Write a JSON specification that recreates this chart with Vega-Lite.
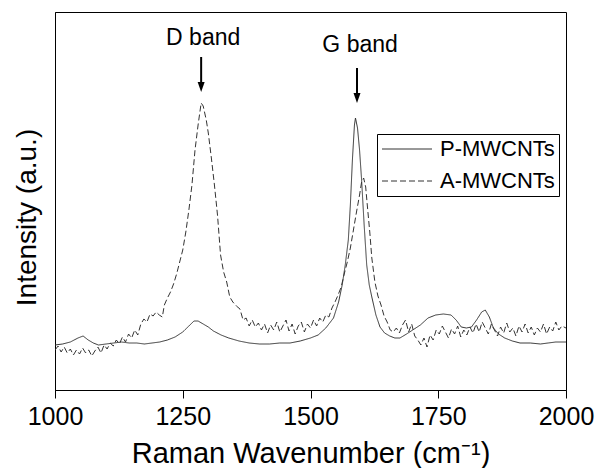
{
  "$schema": "https://vega.github.io/schema/vega-lite/v6.json",
  "width": 511,
  "height": 378,
  "autosize": {"type": "none"},
  "padding": {"left": 55, "top": 12, "right": 31, "bottom": 78},
  "config": {
    "font": "Liberation Sans",
    "view": {"stroke": "black", "strokeWidth": 1},
    "axis": {"labelColor": "black", "titleColor": "black", "domainColor": "black", "tickColor": "black", "grid": false, "titleFontWeight": "normal"}
  },
  "datasets": {
    "spec": [
      {"wn":1000,"v":45,"s":"P-MWCNTs"},{"wn":1015,"v":46,"s":"P-MWCNTs"},{"wn":1030,"v":48,"s":"P-MWCNTs"},{"wn":1045,"v":52,"s":"P-MWCNTs"},{"wn":1055,"v":54,"s":"P-MWCNTs"},{"wn":1065,"v":50,"s":"P-MWCNTs"},{"wn":1075,"v":47,"s":"P-MWCNTs"},{"wn":1085,"v":45,"s":"P-MWCNTs"},{"wn":1100,"v":46,"s":"P-MWCNTs"},{"wn":1115,"v":47,"s":"P-MWCNTs"},{"wn":1130,"v":48,"s":"P-MWCNTs"},{"wn":1145,"v":47,"s":"P-MWCNTs"},{"wn":1160,"v":47,"s":"P-MWCNTs"},{"wn":1175,"v":46,"s":"P-MWCNTs"},{"wn":1190,"v":47,"s":"P-MWCNTs"},{"wn":1205,"v":48,"s":"P-MWCNTs"},{"wn":1220,"v":50,"s":"P-MWCNTs"},{"wn":1235,"v":53,"s":"P-MWCNTs"},{"wn":1250,"v":58,"s":"P-MWCNTs"},{"wn":1262,"v":64,"s":"P-MWCNTs"},{"wn":1272,"v":69,"s":"P-MWCNTs"},{"wn":1280,"v":69,"s":"P-MWCNTs"},{"wn":1290,"v":66,"s":"P-MWCNTs"},{"wn":1300,"v":63,"s":"P-MWCNTs"},{"wn":1310,"v":59,"s":"P-MWCNTs"},{"wn":1325,"v":55,"s":"P-MWCNTs"},{"wn":1340,"v":52,"s":"P-MWCNTs"},{"wn":1360,"v":49,"s":"P-MWCNTs"},{"wn":1380,"v":47,"s":"P-MWCNTs"},{"wn":1400,"v":46,"s":"P-MWCNTs"},{"wn":1420,"v":46,"s":"P-MWCNTs"},{"wn":1440,"v":47,"s":"P-MWCNTs"},{"wn":1460,"v":47,"s":"P-MWCNTs"},{"wn":1480,"v":49,"s":"P-MWCNTs"},{"wn":1500,"v":52,"s":"P-MWCNTs"},{"wn":1515,"v":55,"s":"P-MWCNTs"},{"wn":1530,"v":62,"s":"P-MWCNTs"},{"wn":1545,"v":72,"s":"P-MWCNTs"},{"wn":1555,"v":88,"s":"P-MWCNTs"},{"wn":1562,"v":105,"s":"P-MWCNTs"},{"wn":1568,"v":125,"s":"P-MWCNTs"},{"wn":1574,"v":150,"s":"P-MWCNTs"},{"wn":1578,"v":185,"s":"P-MWCNTs"},{"wn":1582,"v":230,"s":"P-MWCNTs"},{"wn":1586,"v":265,"s":"P-MWCNTs"},{"wn":1588,"v":272,"s":"P-MWCNTs"},{"wn":1592,"v":262,"s":"P-MWCNTs"},{"wn":1596,"v":240,"s":"P-MWCNTs"},{"wn":1600,"v":210,"s":"P-MWCNTs"},{"wn":1605,"v":165,"s":"P-MWCNTs"},{"wn":1610,"v":125,"s":"P-MWCNTs"},{"wn":1615,"v":105,"s":"P-MWCNTs"},{"wn":1620,"v":93,"s":"P-MWCNTs"},{"wn":1628,"v":75,"s":"P-MWCNTs"},{"wn":1636,"v":63,"s":"P-MWCNTs"},{"wn":1645,"v":57,"s":"P-MWCNTs"},{"wn":1655,"v":54,"s":"P-MWCNTs"},{"wn":1665,"v":52,"s":"P-MWCNTs"},{"wn":1675,"v":52,"s":"P-MWCNTs"},{"wn":1688,"v":56,"s":"P-MWCNTs"},{"wn":1700,"v":60,"s":"P-MWCNTs"},{"wn":1715,"v":65,"s":"P-MWCNTs"},{"wn":1730,"v":72,"s":"P-MWCNTs"},{"wn":1745,"v":75,"s":"P-MWCNTs"},{"wn":1760,"v":76,"s":"P-MWCNTs"},{"wn":1775,"v":75,"s":"P-MWCNTs"},{"wn":1785,"v":70,"s":"P-MWCNTs"},{"wn":1795,"v":63,"s":"P-MWCNTs"},{"wn":1805,"v":62,"s":"P-MWCNTs"},{"wn":1815,"v":63,"s":"P-MWCNTs"},{"wn":1825,"v":70,"s":"P-MWCNTs"},{"wn":1835,"v":78,"s":"P-MWCNTs"},{"wn":1842,"v":80,"s":"P-MWCNTs"},{"wn":1850,"v":73,"s":"P-MWCNTs"},{"wn":1858,"v":62,"s":"P-MWCNTs"},{"wn":1868,"v":56,"s":"P-MWCNTs"},{"wn":1880,"v":52,"s":"P-MWCNTs"},{"wn":1895,"v":49,"s":"P-MWCNTs"},{"wn":1910,"v":47,"s":"P-MWCNTs"},{"wn":1930,"v":47,"s":"P-MWCNTs"},{"wn":1950,"v":46,"s":"P-MWCNTs"},{"wn":1965,"v":47,"s":"P-MWCNTs"},{"wn":1980,"v":48,"s":"P-MWCNTs"},{"wn":2000,"v":48,"s":"P-MWCNTs"},
      {"wn":1000,"v":40,"s":"A-MWCNTs"},{"wn":1006,"v":44,"s":"A-MWCNTs"},{"wn":1012,"v":38,"s":"A-MWCNTs"},{"wn":1018,"v":43,"s":"A-MWCNTs"},{"wn":1024,"v":37,"s":"A-MWCNTs"},{"wn":1030,"v":41,"s":"A-MWCNTs"},{"wn":1036,"v":35,"s":"A-MWCNTs"},{"wn":1042,"v":40,"s":"A-MWCNTs"},{"wn":1048,"v":36,"s":"A-MWCNTs"},{"wn":1054,"v":42,"s":"A-MWCNTs"},{"wn":1060,"v":37,"s":"A-MWCNTs"},{"wn":1066,"v":40,"s":"A-MWCNTs"},{"wn":1072,"v":34,"s":"A-MWCNTs"},{"wn":1078,"v":39,"s":"A-MWCNTs"},{"wn":1084,"v":43,"s":"A-MWCNTs"},{"wn":1090,"v":37,"s":"A-MWCNTs"},{"wn":1096,"v":45,"s":"A-MWCNTs"},{"wn":1102,"v":41,"s":"A-MWCNTs"},{"wn":1108,"v":47,"s":"A-MWCNTs"},{"wn":1114,"v":44,"s":"A-MWCNTs"},{"wn":1120,"v":50,"s":"A-MWCNTs"},{"wn":1126,"v":46,"s":"A-MWCNTs"},{"wn":1132,"v":53,"s":"A-MWCNTs"},{"wn":1138,"v":48,"s":"A-MWCNTs"},{"wn":1144,"v":56,"s":"A-MWCNTs"},{"wn":1150,"v":52,"s":"A-MWCNTs"},{"wn":1156,"v":60,"s":"A-MWCNTs"},{"wn":1162,"v":55,"s":"A-MWCNTs"},{"wn":1168,"v":66,"s":"A-MWCNTs"},{"wn":1174,"v":71,"s":"A-MWCNTs"},{"wn":1180,"v":68,"s":"A-MWCNTs"},{"wn":1186,"v":76,"s":"A-MWCNTs"},{"wn":1192,"v":74,"s":"A-MWCNTs"},{"wn":1198,"v":78,"s":"A-MWCNTs"},{"wn":1204,"v":75,"s":"A-MWCNTs"},{"wn":1210,"v":73,"s":"A-MWCNTs"},{"wn":1214,"v":85,"s":"A-MWCNTs"},{"wn":1220,"v":92,"s":"A-MWCNTs"},{"wn":1226,"v":98,"s":"A-MWCNTs"},{"wn":1232,"v":106,"s":"A-MWCNTs"},{"wn":1238,"v":116,"s":"A-MWCNTs"},{"wn":1244,"v":128,"s":"A-MWCNTs"},{"wn":1250,"v":140,"s":"A-MWCNTs"},{"wn":1256,"v":158,"s":"A-MWCNTs"},{"wn":1262,"v":180,"s":"A-MWCNTs"},{"wn":1268,"v":205,"s":"A-MWCNTs"},{"wn":1274,"v":240,"s":"A-MWCNTs"},{"wn":1280,"v":265,"s":"A-MWCNTs"},{"wn":1286,"v":287,"s":"A-MWCNTs"},{"wn":1290,"v":284,"s":"A-MWCNTs"},{"wn":1296,"v":270,"s":"A-MWCNTs"},{"wn":1300,"v":257,"s":"A-MWCNTs"},{"wn":1306,"v":232,"s":"A-MWCNTs"},{"wn":1312,"v":205,"s":"A-MWCNTs"},{"wn":1318,"v":175,"s":"A-MWCNTs"},{"wn":1324,"v":135,"s":"A-MWCNTs"},{"wn":1330,"v":118,"s":"A-MWCNTs"},{"wn":1336,"v":108,"s":"A-MWCNTs"},{"wn":1342,"v":93,"s":"A-MWCNTs"},{"wn":1348,"v":88,"s":"A-MWCNTs"},{"wn":1355,"v":84,"s":"A-MWCNTs"},{"wn":1362,"v":81,"s":"A-MWCNTs"},{"wn":1368,"v":70,"s":"A-MWCNTs"},{"wn":1374,"v":72,"s":"A-MWCNTs"},{"wn":1380,"v":64,"s":"A-MWCNTs"},{"wn":1386,"v":70,"s":"A-MWCNTs"},{"wn":1392,"v":63,"s":"A-MWCNTs"},{"wn":1398,"v":67,"s":"A-MWCNTs"},{"wn":1404,"v":60,"s":"A-MWCNTs"},{"wn":1410,"v":66,"s":"A-MWCNTs"},{"wn":1416,"v":57,"s":"A-MWCNTs"},{"wn":1422,"v":65,"s":"A-MWCNTs"},{"wn":1428,"v":60,"s":"A-MWCNTs"},{"wn":1434,"v":68,"s":"A-MWCNTs"},{"wn":1440,"v":58,"s":"A-MWCNTs"},{"wn":1446,"v":64,"s":"A-MWCNTs"},{"wn":1452,"v":70,"s":"A-MWCNTs"},{"wn":1458,"v":59,"s":"A-MWCNTs"},{"wn":1464,"v":66,"s":"A-MWCNTs"},{"wn":1470,"v":56,"s":"A-MWCNTs"},{"wn":1476,"v":64,"s":"A-MWCNTs"},{"wn":1482,"v":68,"s":"A-MWCNTs"},{"wn":1488,"v":58,"s":"A-MWCNTs"},{"wn":1494,"v":66,"s":"A-MWCNTs"},{"wn":1500,"v":62,"s":"A-MWCNTs"},{"wn":1506,"v":70,"s":"A-MWCNTs"},{"wn":1512,"v":64,"s":"A-MWCNTs"},{"wn":1518,"v":72,"s":"A-MWCNTs"},{"wn":1524,"v":68,"s":"A-MWCNTs"},{"wn":1530,"v":75,"s":"A-MWCNTs"},{"wn":1536,"v":73,"s":"A-MWCNTs"},{"wn":1542,"v":82,"s":"A-MWCNTs"},{"wn":1548,"v":88,"s":"A-MWCNTs"},{"wn":1554,"v":95,"s":"A-MWCNTs"},{"wn":1560,"v":103,"s":"A-MWCNTs"},{"wn":1566,"v":116,"s":"A-MWCNTs"},{"wn":1572,"v":128,"s":"A-MWCNTs"},{"wn":1578,"v":142,"s":"A-MWCNTs"},{"wn":1584,"v":160,"s":"A-MWCNTs"},{"wn":1590,"v":178,"s":"A-MWCNTs"},{"wn":1596,"v":195,"s":"A-MWCNTs"},{"wn":1600,"v":208,"s":"A-MWCNTs"},{"wn":1604,"v":212,"s":"A-MWCNTs"},{"wn":1608,"v":203,"s":"A-MWCNTs"},{"wn":1612,"v":180,"s":"A-MWCNTs"},{"wn":1616,"v":158,"s":"A-MWCNTs"},{"wn":1620,"v":132,"s":"A-MWCNTs"},{"wn":1626,"v":108,"s":"A-MWCNTs"},{"wn":1632,"v":94,"s":"A-MWCNTs"},{"wn":1638,"v":85,"s":"A-MWCNTs"},{"wn":1644,"v":74,"s":"A-MWCNTs"},{"wn":1650,"v":68,"s":"A-MWCNTs"},{"wn":1656,"v":60,"s":"A-MWCNTs"},{"wn":1662,"v":58,"s":"A-MWCNTs"},{"wn":1668,"v":62,"s":"A-MWCNTs"},{"wn":1674,"v":57,"s":"A-MWCNTs"},{"wn":1680,"v":65,"s":"A-MWCNTs"},{"wn":1686,"v":70,"s":"A-MWCNTs"},{"wn":1692,"v":58,"s":"A-MWCNTs"},{"wn":1698,"v":66,"s":"A-MWCNTs"},{"wn":1704,"v":54,"s":"A-MWCNTs"},{"wn":1710,"v":50,"s":"A-MWCNTs"},{"wn":1716,"v":45,"s":"A-MWCNTs"},{"wn":1722,"v":52,"s":"A-MWCNTs"},{"wn":1728,"v":43,"s":"A-MWCNTs"},{"wn":1734,"v":55,"s":"A-MWCNTs"},{"wn":1740,"v":50,"s":"A-MWCNTs"},{"wn":1746,"v":60,"s":"A-MWCNTs"},{"wn":1752,"v":56,"s":"A-MWCNTs"},{"wn":1758,"v":64,"s":"A-MWCNTs"},{"wn":1764,"v":58,"s":"A-MWCNTs"},{"wn":1770,"v":52,"s":"A-MWCNTs"},{"wn":1776,"v":61,"s":"A-MWCNTs"},{"wn":1782,"v":56,"s":"A-MWCNTs"},{"wn":1788,"v":64,"s":"A-MWCNTs"},{"wn":1794,"v":53,"s":"A-MWCNTs"},{"wn":1800,"v":60,"s":"A-MWCNTs"},{"wn":1806,"v":55,"s":"A-MWCNTs"},{"wn":1812,"v":63,"s":"A-MWCNTs"},{"wn":1818,"v":57,"s":"A-MWCNTs"},{"wn":1824,"v":66,"s":"A-MWCNTs"},{"wn":1830,"v":58,"s":"A-MWCNTs"},{"wn":1836,"v":68,"s":"A-MWCNTs"},{"wn":1842,"v":62,"s":"A-MWCNTs"},{"wn":1848,"v":56,"s":"A-MWCNTs"},{"wn":1854,"v":66,"s":"A-MWCNTs"},{"wn":1860,"v":60,"s":"A-MWCNTs"},{"wn":1866,"v":54,"s":"A-MWCNTs"},{"wn":1872,"v":63,"s":"A-MWCNTs"},{"wn":1878,"v":57,"s":"A-MWCNTs"},{"wn":1884,"v":67,"s":"A-MWCNTs"},{"wn":1890,"v":58,"s":"A-MWCNTs"},{"wn":1896,"v":62,"s":"A-MWCNTs"},{"wn":1902,"v":54,"s":"A-MWCNTs"},{"wn":1908,"v":64,"s":"A-MWCNTs"},{"wn":1914,"v":58,"s":"A-MWCNTs"},{"wn":1920,"v":66,"s":"A-MWCNTs"},{"wn":1926,"v":57,"s":"A-MWCNTs"},{"wn":1932,"v":63,"s":"A-MWCNTs"},{"wn":1938,"v":55,"s":"A-MWCNTs"},{"wn":1944,"v":62,"s":"A-MWCNTs"},{"wn":1950,"v":58,"s":"A-MWCNTs"},{"wn":1956,"v":66,"s":"A-MWCNTs"},{"wn":1962,"v":56,"s":"A-MWCNTs"},{"wn":1968,"v":63,"s":"A-MWCNTs"},{"wn":1974,"v":59,"s":"A-MWCNTs"},{"wn":1980,"v":68,"s":"A-MWCNTs"},{"wn":1986,"v":60,"s":"A-MWCNTs"},{"wn":1992,"v":64,"s":"A-MWCNTs"},{"wn":2000,"v":62,"s":"A-MWCNTs"}
    ],
    "labels": [
      {"wn": 1290, "v": 352, "label": "D band"},
      {"wn": 1597, "v": 345, "label": "G band"}
    ],
    "arrows": [
      {"wn": 1286, "top": 333, "bot": 304, "head": 303},
      {"wn": 1591, "top": 322, "bot": 293, "head": 292}
    ]
  },
  "layer": [
    {
      "data": {"name": "spec"},
      "mark": {"type": "line", "stroke": "#333333", "strokeWidth": 1, "clip": true},
      "encoding": {
        "x": {"field": "wn", "type": "quantitative", "scale": {"domain": [1000, 2000], "nice": false},
          "axis": {"values": [1000, 1250, 1500, 1750, 2000], "format": "d", "title": "Raman Wavenumber (cm⁻¹)", "labelFontSize": 25, "titleFontSize": 29, "tickSize": 8, "labelPadding": 6, "titlePadding": 10, "labelFlush": false}},
        "y": {"field": "v", "type": "quantitative", "scale": {"domain": [0, 378], "nice": false},
          "axis": {"title": "Intensity (a.u.)", "labels": false, "ticks": false, "titleFontSize": 28, "titlePadding": 14, "titleY": 205}},
        "strokeDash": {"field": "s", "type": "nominal",
          "scale": {"domain": ["P-MWCNTs", "A-MWCNTs"], "range": [[1, 0], [6, 3]]},
          "legend": {"title": null, "orient": "none", "legendX": 322, "legendY": 122, "strokeColor": "black", "fillColor": "white", "padding": 4,
            "symbolType": "M-1,0L4,0", "symbolSize": 400, "symbolStrokeWidth": 1, "symbolStrokeColor": "#333333",
            "labelFontSize": 22, "labelColor": "black", "labelOffset": 37, "rowPadding": 10}},
        "detail": {"field": "s"},
        "order": {"field": "wn", "type": "quantitative"}
      }
    },
    {
      "data": {"name": "labels"},
      "mark": {"type": "text", "fontSize": 23, "color": "black", "align": "center", "baseline": "middle"},
      "encoding": {
        "x": {"field": "wn", "type": "quantitative"},
        "y": {"field": "v", "type": "quantitative"},
        "text": {"field": "label"}
      }
    },
    {
      "data": {"name": "arrows"},
      "mark": {"type": "rule", "color": "black", "strokeWidth": 2},
      "encoding": {
        "x": {"field": "wn", "type": "quantitative"},
        "y": {"field": "top", "type": "quantitative"},
        "y2": {"field": "bot"}
      }
    },
    {
      "data": {"name": "arrows"},
      "mark": {"type": "point", "shape": "M-0.7,-1L0.7,-1L0,1Z", "filled": true, "color": "black", "size": 100, "opacity": 1},
      "encoding": {
        "x": {"field": "wn", "type": "quantitative"},
        "y": {"field": "head", "type": "quantitative"}
      }
    }
  ]
}
